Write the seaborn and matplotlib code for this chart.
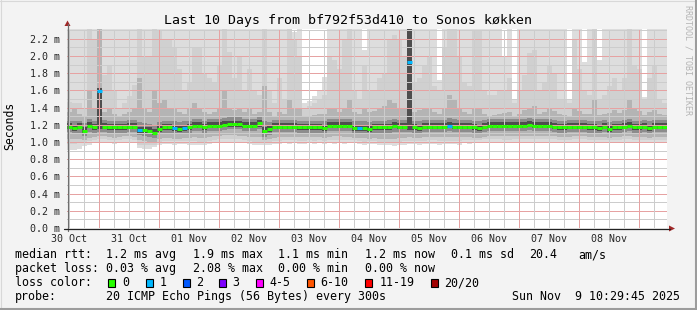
import numpy as np
import pandas as pd
import matplotlib
matplotlib.use("Agg")
import matplotlib.pyplot as plt
from matplotlib.lines import Line2D
from matplotlib.patches import Polygon, Rectangle
import seaborn as sns

sns.set_style("white")
plt.rcParams['font.family'] = ['DejaVu Sans Mono', 'DejaVu Sans']

W, H = 697, 310

# ---- data (hours after 30 Oct 00:00; values in 1/100 ms) ----
t_start = 11.1
step_h = 2.0
day_labels = ["30 Oct", "31 Oct", "01 Nov", "02 Nov", "03 Nov",
              "04 Nov", "05 Nov", "06 Nov", "07 Nov", "08 Nov"]

median = [118,116,118,113,119,117,159,118,117,117,117,117,118,118,114,114,113,111,115,117,
          117,116,115,116,117,119,119,117,119,119,119,120,121,121,121,119,119,119,122,113,
          115,118,118,118,118,118,117,117,117,117,117,116,119,119,119,119,119,116,116,116,
          115,117,117,117,117,119,118,118,193,117,116,118,118,118,118,118,119,118,118,118,
          118,117,116,118,119,119,119,119,119,119,119,119,120,119,119,119,119,118,117,117,
          118,118,118,118,117,117,116,118,115,117,117,118,119,117,117,118,116,118,118,118]
loss = [0,0,0,0,0,0,1,0,0,0,0,0,0,0,1,0,0,0,0,0,
        0,1,0,1,0,0,0,0,0,0,0,0,0,0,0,0,0,0,0,0,
        0,0,0,0,0,0,0,0,0,0,0,0,0,0,0,0,0,0,1,0,
        0,0,0,0,0,0,0,0,1,0,0,0,0,0,0,0,1,0,0,0,
        0,0,0,0,0,0,0,0,0,0,0,0,0,0,0,0,0,0,0,0,
        0,0,0,0,0,0,0,0,0,0,0,0,0,0,0,0,0,0,0,0]
p_max = [250,250,250,250,250,250,250,250,250,250,250,250,250,250,250,250,250,250,250,250,
         250,250,250,250,250,250,250,250,250,250,250,250,250,250,250,250,250,250,250,250,
         250,250,250,250,250,228,250,145,148,153,160,176,250,250,250,250,250,250,250,207,
         250,250,250,250,250,250,250,250,250,250,250,250,250,250,172,250,250,250,250,250,
         250,250,250,250,250,250,250,200,250,149,250,250,250,250,250,250,250,250,250,250,
         150,250,250,193,250,250,195,250,250,250,250,250,250,250,250,152,250,250,250,250]
p_hi2 = [147,145,145,138,250,220,250,178,190,160,140,145,153,166,250,200,200,250,230,220,
         220,210,185,160,170,210,210,180,175,170,190,250,205,175,200,160,185,160,155,250,
         160,145,175,150,250,220,200,140,142,145,150,155,200,195,185,220,250,160,150,190,
         160,160,175,180,220,225,220,200,250,170,175,190,200,165,160,210,250,250,200,170,
         165,230,230,160,155,155,160,160,175,145,160,178,203,207,160,170,188,180,150,150,
         145,220,185,160,155,250,150,155,165,174,160,174,250,190,185,150,175,190,150,145]
p_hi3 = [135,138,133,130,160,140,250,135,140,133,130,132,135,138,175,140,135,160,145,150,
         140,138,135,133,140,145,140,135,133,135,138,160,140,137,140,135,138,133,135,165,
         135,130,135,132,150,140,138,130,130,131,132,133,140,138,135,140,150,135,133,138,
         135,136,140,142,150,145,140,138,250,135,137,140,138,135,133,140,155,150,140,135,
         133,140,140,132,130,131,133,134,135,130,133,137,140,142,133,135,138,136,132,131,
         130,140,136,133,132,150,131,132,134,137,134,137,150,138,136,131,135,137,132,131]
p_hi4 = [125,124,125,122,127,125,163,126,125,124,124,125,126,126,123,122,121,120,123,125,
         125,124,123,124,125,127,127,125,127,127,127,128,129,129,129,127,127,127,130,124,
         123,126,126,126,126,126,125,125,125,125,125,124,127,127,127,127,127,124,124,124,
         123,125,125,125,126,127,126,126,250,125,124,126,126,126,126,126,128,127,126,126,
         126,125,124,126,127,127,127,127,127,127,127,127,128,127,127,127,127,126,125,125,
         126,126,126,126,125,125,124,126,123,125,125,126,127,125,125,126,124,126,126,126]
p_hi5 = [122,120,122,117,123,121,163,122,121,121,121,121,122,122,118,118,117,115,119,121,
         121,120,119,120,121,123,123,121,123,123,123,124,125,125,125,123,123,123,126,117,
         119,122,122,122,122,122,121,121,121,121,121,120,123,123,123,123,123,120,120,120,
         119,121,121,121,121,123,122,122,250,121,120,122,122,122,122,122,123,122,122,122,
         122,121,120,122,123,123,123,123,123,123,123,123,124,123,123,123,123,122,121,121,
         122,122,122,122,121,121,120,122,119,121,121,122,123,121,121,122,120,122,122,122]
p_lo5 = [115,113,115,110,116,114,115,115,114,114,114,114,115,115,111,111,110,108,112,114,
         114,113,112,113,114,116,116,114,116,116,116,117,118,118,118,116,116,116,118,110,
         112,115,115,115,115,115,114,114,114,114,114,113,116,116,116,116,116,113,113,113,
         112,114,114,114,114,116,115,115,114,114,113,115,115,115,115,115,116,115,115,115,
         115,114,113,115,116,116,116,116,116,116,116,116,117,116,116,116,116,115,114,114,
         115,115,115,115,114,114,113,115,112,114,114,115,116,114,114,115,113,115,115,115]
p_lo4 = [112,110,111,107,112,111,112,112,111,111,111,111,112,112,108,107,106,105,109,111,
         111,110,109,110,111,113,113,111,113,113,113,114,115,115,115,113,113,113,115,106,
         108,112,112,112,112,112,111,111,111,111,111,110,113,113,113,113,113,110,110,110,
         109,111,111,111,110,112,112,112,112,111,110,112,112,112,112,112,113,112,112,112,
         112,111,110,112,113,113,113,113,113,113,113,113,114,113,113,113,113,112,111,111,
         112,112,112,112,111,111,110,112,109,111,111,112,113,111,111,112,110,112,112,112]
p_lo3 = [104,103,104,102,105,106,107,107,106,105,106,107,107,106,102,101,100,100,103,105,
         105,104,104,105,105,106,105,105,106,107,107,108,108,108,107,107,106,106,106,102,
         103,105,106,106,106,106,106,106,106,106,106,105,106,107,107,106,106,105,105,105,
         104,105,104,103,103,104,105,105,106,105,105,106,106,106,106,106,106,106,106,106,
         106,105,105,106,107,107,107,107,107,107,107,107,107,107,107,107,107,107,106,106,
         106,107,107,107,106,106,106,106,105,106,106,107,107,106,106,106,105,106,106,106]
p_lo2 = [98,98,99,99,101,102,103,103,102,102,102,103,103,102,97,96,96,97,100,101,
         101,101,101,101,101,101,100,100,101,102,103,103,103,103,103,102,101,100,100,99,
         99,101,101,102,102,102,101,101,102,101,102,101,102,102,102,102,102,102,101,100,
         101,101,100,99,99,99,100,101,101,101,101,101,102,102,101,101,101,101,101,102,
         102,102,102,103,103,103,103,102,102,103,103,103,103,103,103,103,103,103,102,102,
         102,103,103,103,102,102,102,102,102,102,102,103,103,102,102,102,102,102,102,102]
p_min = [91,91,92,95,97,99,100,100,99,98,99,100,100,99,93,92,92,94,97,98,
         98,97,98,98,97,97,96,97,98,99,100,100,100,100,99,99,98,97,96,96,
         96,98,98,99,98,99,98,98,99,98,99,98,99,98,99,98,99,99,98,97,
         98,98,97,96,96,95,96,97,98,98,97,98,98,98,97,98,98,98,97,99,
         98,99,99,100,100,99,99,99,99,100,99,100,99,100,99,100,99,99,99,100,
         99,100,99,99,100,99,99,100,99,99,100,99,99,100,99,99,100,99,99,100]

loss_labels = ["0", "1", "2", "3", "4-5", "6-10", "11-19", "20/20"]
loss_colors = ["#26ff00", "#00b8ff", "#0059ff", "#7e00ff", "#ff00ff",
               "#ff5500", "#ff0000", "#a10000"]

# ---- figure ----
fig = plt.figure(figsize=(W / 100, H / 100), dpi=100, facecolor="#f3f3f3")


def fx(x):
    return x / W


def fy(y):
    return 1 - y / H


ax_l, ax_r, ax_t, ax_b = 67, 667, 28.5, 228
ax = fig.add_axes([fx(ax_l), fy(ax_b), (ax_r - ax_l) / W, (ax_b - ax_t) / H])
ax.set_facecolor("white")
n = len(median)
t_edges = t_start + step_h * np.arange(n + 1)
ax.set_xlim(t_edges[0], t_edges[-1])
ax.set_ylim(0, (ax_b - ax_t) / 86.0)


def ext(a):
    a = np.asarray(a, dtype=float) / 100.0
    return np.append(a, a[-1])


layers = [(p_min, p_max, "#dddddd"), (p_lo2, p_hi2, "#d0d0d0"),
          (p_lo3, p_hi3, "#b4b4b4"), (p_lo4, p_hi4, "#8c8c8c"),
          (p_lo5, p_hi5, "#4e4e4e")]
for lo, hi, c in layers:
    ax.fill_between(t_edges, ext(lo), ext(hi), step="post", color=c,
                    lw=0, zorder=1, antialiased=False)

# median segments coloured by loss
rows = []
for i in range(n):
    lab = loss_labels[loss[i]]
    rows.append((t_edges[i], median[i] / 100.0, lab, i))
    rows.append((t_edges[i + 1], median[i] / 100.0, lab, i))
df = pd.DataFrame(rows, columns=["t", "ms", "loss", "seg"])
pal = dict(zip(loss_labels, loss_colors))
sns.lineplot(data=df, x="t", y="ms", hue="loss", units="seg", estimator=None,
             palette={k: pal[k] for k in df["loss"].unique()}, legend=False,
             sort=False, linewidth=2.2, solid_capstyle="butt", ax=ax, zorder=5)

# grid (dotted, pixel-snapped)
dot = (0, (1, 1))
ymax = ax.get_ylim()[1]
red_grid, gray_grid = "#e6a2a2", "#cccccc"
for k in range(1, 24):
    v = k * 0.1
    if v < ymax:
        ax.axhline(v, color=red_grid if k % 2 == 0 else gray_grid,
                   lw=0.72, ls=dot, zorder=3, antialiased=False)
h = 12
while h < t_edges[-1]:
    ax.axvline(h, color=red_grid if h % 24 == 0 else gray_grid,
               lw=0.72, ls=dot, zorder=3, antialiased=False)
    h += 6

for s in ax.spines.values():
    s.set_visible(False)
ax.set_xlabel("")
ax.set_ylabel("")
yt = np.arange(0, 2.21, 0.2)
ax.set_yticks(yt)
ax.set_yticklabels([f"{v:.1f} m" for v in yt], fontsize=7.2)
ax.set_xticks([12 + 24 * k for k in range(len(day_labels))])
ax.set_xticklabels(day_labels, fontsize=7.2)
ax.tick_params(axis="both", length=0)
ax.tick_params(axis="y", pad=5.0)
ax.tick_params(axis="x", pad=4.0)

# axis lines + arrows
fig.add_artist(Line2D([fx(67.5), fx(67.5)], [fy(231), fy(24)], color="#6e6e6e", lw=0.9))
fig.add_artist(Line2D([fx(64), fx(670)], [fy(228.5), fy(228.5)], color="#222222", lw=0.9))
fig.add_artist(Polygon([[fx(67.5), fy(20.5)], [fx(64.5), fy(26)], [fx(70.5), fy(26)]],
                       closed=True, color="#a02828", lw=0))
fig.add_artist(Polygon([[fx(675), fy(228.5)], [fx(669), fy(225.5)], [fx(669), fy(231.5)]],
                       closed=True, color="#a02828", lw=0))

# texts
fig.text(fx(347.5), fy(24), "Last 10 Days from bf792f53d410 to Sonos køkken",
         ha="center", va="baseline", fontsize=9.5, color="black")
fig.text(fx(10), fy(126), "Seconds", rotation=90, ha="center", va="center",
         fontsize=8.3, color="black")
fig.text(fx(688), fy(60), "RRDTOOL / TOBI OETIKER", rotation=270, ha="center",
         va="center", fontsize=6, color="#b4b4b4")

fs = 8.35
row1 = [("median rtt:", 16), ("1.2 ms avg", 107.3), ("1.9 ms max", 194.3),
        ("1.1 ms min", 279.3), ("1.2 ms now", 366), ("0.1 ms sd", 451.7),
        ("20.4", 530), ("am/s", 579.3)]
row2 = [("packet loss:", 16), ("0.03 % avg", 107.3), ("2.08 % max", 194.3),
        ("0.00 % min", 279.3), ("0.00 % now", 366)]
row4 = [("probe:", 16), ("20 ICMP Echo Pings (56 Bytes) every 300s", 107.3),
        ("Sun Nov  9 10:29:45 2025", 513.3)]
for row, base in ((row1, 258.3), (row2, 272.3), (row4, 300.0)):
    for txt, x in row:
        fig.text(fx(x - 0.8), fy(base), txt, ha="left", va="baseline",
                 fontsize=fs, color="black")
fig.text(fx(16 - 0.8), fy(286.5), "loss color:", ha="left", va="baseline",
         fontsize=fs, color="black")
sq_x = [108.3, 145.7, 182.7, 219, 256, 306.7, 365, 430.7]
lab_x = [123.3, 160, 196.7, 233.3, 270.7, 320.7, 380.7, 445]
for lab, col, sx, lx in zip(loss_labels, loss_colors, sq_x, lab_x):
    fig.add_artist(Rectangle((fx(sx), fy(286.5)), 7 / W, 8 / H, facecolor=col,
                             edgecolor="black", lw=0.8))
    fig.text(fx(lx - 0.8), fy(286.5), lab, ha="left", va="baseline",
             fontsize=fs, color="black")

# frame
fig.add_artist(Line2D([0, 1], [fy(0.5), fy(0.5)], color="#d8d8d8", lw=0.8))
fig.add_artist(Line2D([fx(0.5), fx(0.5)], [0, 1], color="#d8d8d8", lw=0.8))
fig.add_artist(Line2D([0, 1], [fy(309), fy(309)], color="#9c9c9c", lw=1.5))
fig.add_artist(Line2D([fx(696), fx(696)], [0, 1], color="#9c9c9c", lw=1.5))

fig.savefig("out.png", dpi=100, facecolor=fig.get_facecolor())
